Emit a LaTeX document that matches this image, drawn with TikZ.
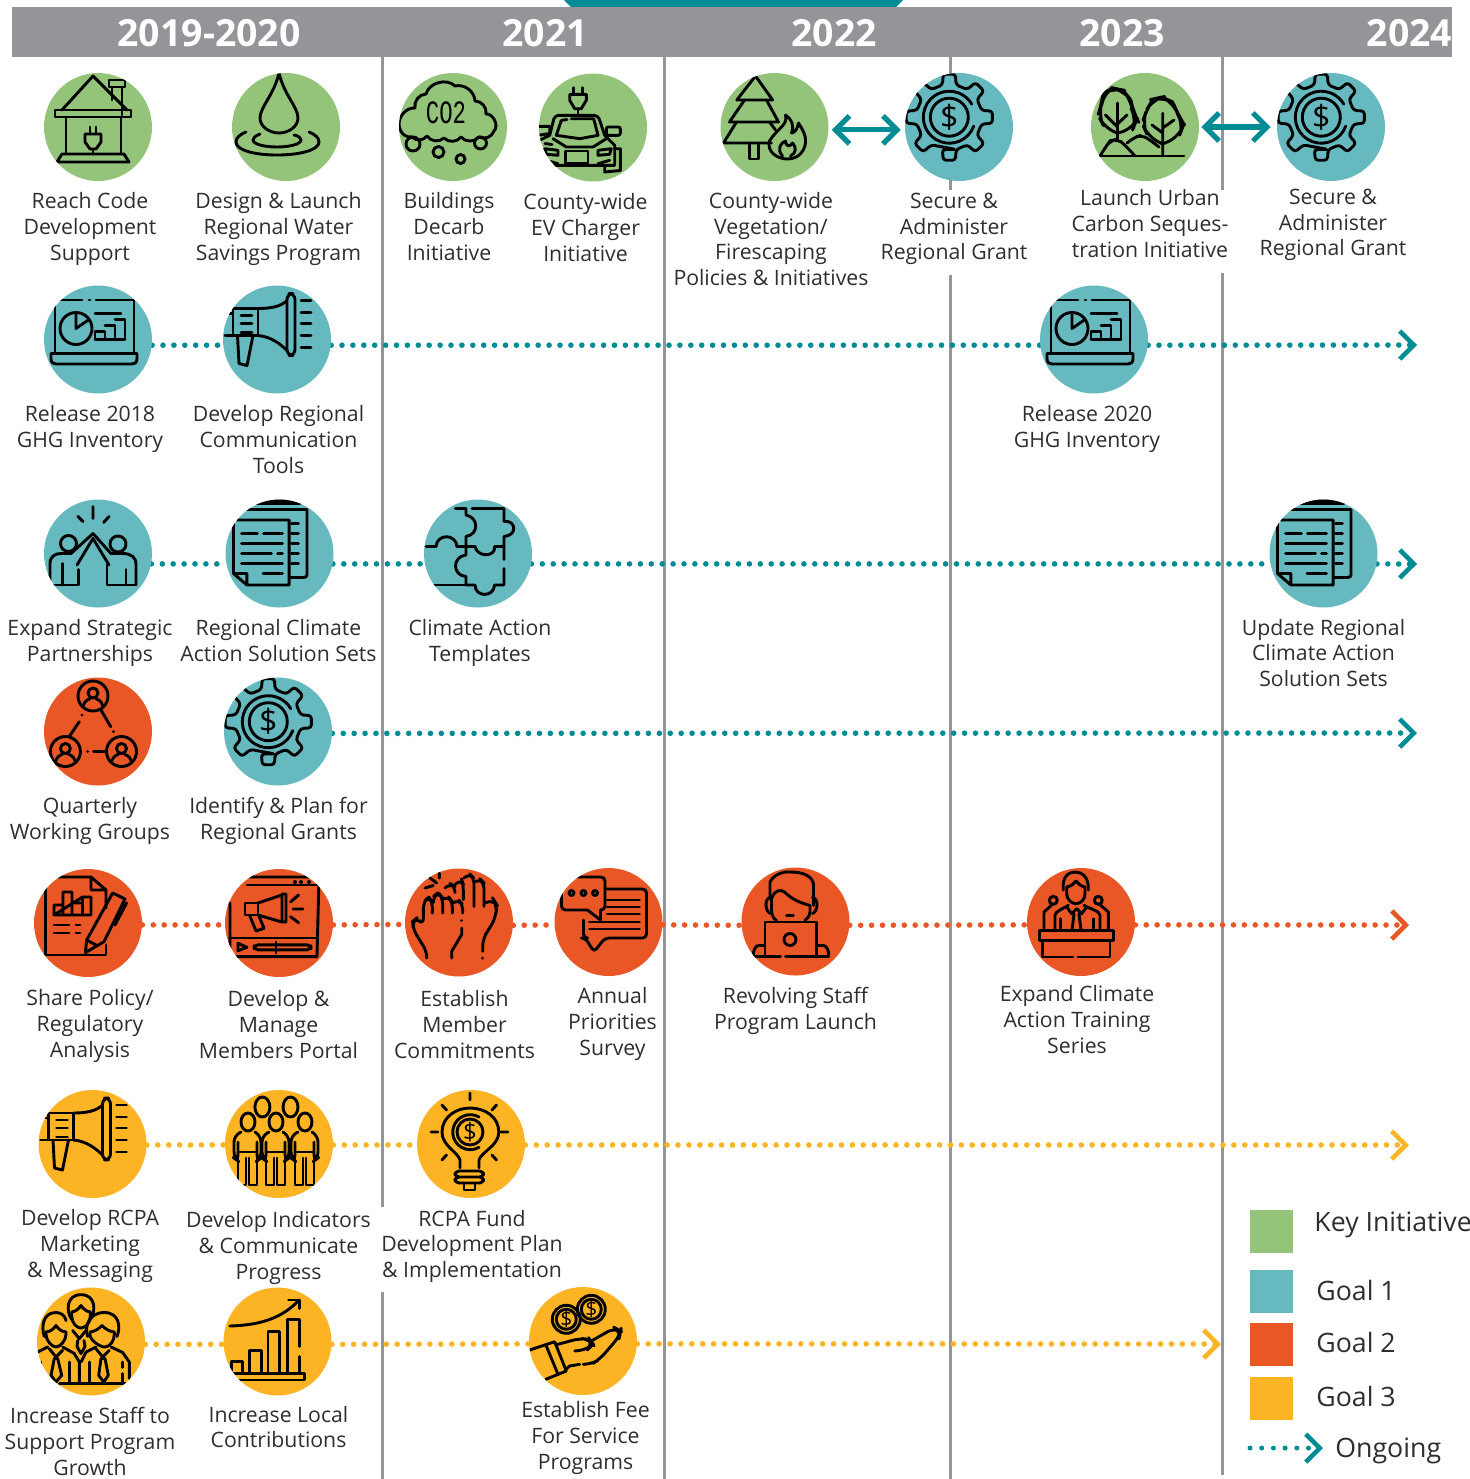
\documentclass[tikz,border=0pt]{standalone}
\usepackage{fontspec}
\setmainfont{Open Sans}
\usetikzlibrary{arrows.meta}
\definecolor{cGreen}{HTML}{94C37A}
\definecolor{cTeal}{HTML}{66B9BF}
\definecolor{cOrange}{HTML}{E85725}
\definecolor{cYellow}{HTML}{FDB424}
\definecolor{cGray}{HTML}{939598}
\definecolor{cDark}{HTML}{008C95}
\definecolor{cText}{HTML}{2E2E2E}
\pgfdeclarelayer{lines}\pgfdeclarelayer{dots}\pgfsetlayers{lines,dots,main}
\tikzset{
 circ/.style={circle,minimum size=54pt,inner sep=0pt,fill=#1},
 lbl/.style={font=\fontsize{10.62pt}{12.85pt}\selectfont,align=center,inner sep=0pt,text=cText,yshift=-1.6pt,execute at begin node=\strut,execute at end node=\strut},
 yearlbl/.style={font=\fontsize{18.7pt}{20pt}\selectfont\bfseries,text=white,inner sep=0pt},
 leg/.style={font=\fontsize{13.35pt}{16pt}\selectfont,text=cText,inner sep=0pt,anchor=west},
 vline/.style={draw=cGray,line width=1.5pt},
 dotsT/.style={draw=#1,line width=2.8pt,line cap=round,dash pattern=on 0pt off 5.45pt},
 chev/.style={-{Straight Barb[length=7pt,width=14pt,line width=2.3pt]}},
 dbl/.style={draw=cDark,line width=2.6pt,{Straight Barb[length=7pt,width=14pt,line width=2.6pt]}-{Straight Barb[length=7pt,width=14pt,line width=2.6pt]}},
 ico/.style={draw=black,line width=1.45pt,line cap=round,line join=round},
 dollar/.style={font=\fontsize{#1}{#1}\selectfont,text=black,inner sep=0pt}
}
\newcommand{\placeicon}[2]{\begin{scope}[shift={(#1.center)}]\clip (0,0) circle[radius=54];\begin{scope}[ico]#2\end{scope}\end{scope}}
\newcommand{\icoPlug}{
 \draw (-3,0)--(-3,7) (3,0)--(3,7);
 \draw (-8,7)--(8,7)--(8,15)--(3,22)--(-3,22)--(-8,15)--cycle;
 \draw (0,22)--(0,27);}
\newcommand{\icoHouse}{
 \draw (-36,-17)--(-5,-51)--(29,-17);
 \draw (-43,-17) rectangle (33,-10);
 \draw (-32,-10)--(-32,27) (23,-10)--(23,27);
 \draw (-36,27)--(26,27)--(31,35)--(-41,35)--cycle;
 \draw (14,-40)--(14,-27) (24,-40)--(24,-12);
 \draw (11,-47) rectangle (27,-40);
 \begin{scope}[shift={(-5,0)}]\icoPlug\end{scope}}
\newcommand{\icoDrop}{
 \draw (-7,-54) .. controls (-12,-32) and (-26,-20) .. (-26,-9) .. controls (-26,0) and (-16,6) .. (-7,6) .. controls (2,6) and (12,0) .. (12,-9) .. controls (12,-20) and (-2,-32) .. (-7,-54) -- cycle;
 \draw (-40,5) .. controls (-47,8) and (-50,11) .. (-50,15) .. controls (-50,23) and (-32,28) .. (-9,28) .. controls (14,28) and (33,23) .. (33,15) .. controls (33,11) and (30,8) .. (23,5);
 \draw (-26,7) .. controls (-31,9) and (-33,11) .. (-33,13) .. controls (-33,17) and (-22,20) .. (-9,20) .. controls (4,20) and (15,17) .. (15,13) .. controls (15,11) and (13,9) .. (8,8);}
\newcommand{\icoCloud}{
 \draw (-53,2) to[bend left=60] (-38,-19) to[bend left=50] (-27,-33) to[bend left=60] (2,-41) to[bend left=50] (22,-26) to[bend left=50] (33,-13) to[bend left=70] (41,4) to[bend left=50] (26,10) to[bend left=50] (8,10) to[bend left=50] (-9,11) to[bend left=50] (-26,9) to[bend left=50] (-41,10) to[bend left=40] (-53,2);
 \draw (-40,17) circle[radius=7] (-14.5,25) circle[radius=5.5] (7.5,32) circle[radius=4.5] (27.5,16) circle[radius=6];
 \node[inner sep=0pt,text=black] (co2txt) at (-7,-14) {\scalebox{0.72}[1.05]{\fontsize{15.5pt}{16pt}\selectfont\fontspec{Liberation Mono}CO2}};}
\newcommand{\icoCar}{
 \draw (-19.3,-39.8)--(-19.3,-33.8) (-10.7,-39.8)--(-10.7,-33.8);
 \draw (-23.3,-33.2)--(-6.7,-33.2)--(-6.7,-27.2)--(-11.7,-18.8)--(-18.3,-18.8)--(-23.3,-27.2)--cycle;
 \draw (-15,-18.8)--(-15,-13.8);
 \draw[rounded corners=2pt] (-43.3,7.8)--(-38.3,-12.2)--(5,-12.2)--(11.7,7.8);
 \draw (-31.7,-7.2)--(-26,-8) (-21.7,-8.8)--(0.7,-8.8)--(5,7.8)--(-13.3,11.2)--(-36.7,7.8)--(-31.7,-7.2);
 \draw (-40,11.2)--(-26.7,19.5)--(0,19.5)--(13.3,11.2);
 \draw (-56,-1.2)--(-43.3,-1.2)--(-43.3,6)--(-56,8);
 \draw[rounded corners=1pt] (13.3,-0.5)--(27.3,-0.5)--(27.3,7.8)--(13.3,7.8)--cycle;
 \draw (11.7,7.8)--(21.7,17.8)--(21.7,37.8)--(-50,37.8);
 \draw (-43.3,7.8)--(-56,14);
 \draw (-27.3,23.5) rectangle (-5,36.2);
 \draw (-48.3,21.2)--(-35,22.8)--(-35,27.8)--(-46.7,26.8)--cycle;
 \draw (5,22.8)--(18.3,21.2)--(16.7,26.8)--(5,27.8)--cycle;
 \draw (-47,32.8)--(-35,36.2) (5,36.2)--(16.7,32.8);
 \draw (-48,16)--(-41,17);
 \draw (21.7,21.2)--(27.3,21.2)--(27.3,43)--(11.7,44.5)--(11.7,37.8);}
\newcommand{\icoTreeFire}{
 \draw (-37.7,-27)--(-19,-51)--(-1.8,-27)--cycle;
 \draw (-30,-27)--(-45,-5)--(4,-5)--(-8,-27);
 \draw (-38,-5)--(-51,16)--(-3,16) (-5,-5)--(1,3);
 \draw (-25,16)--(-25,32)--(-16,32)--(-16,16);
 \draw (11,-12) .. controls (14,-2) and (2,2) .. (-5,14) .. controls (-8,24) and (2,32) .. (13,32) .. controls (25,32) and (32,22) .. (31,12) .. controls (30,4) and (26,0) .. (24,-4) .. controls (23,2) and (20,6) .. (17,6) .. controls (20,-2) and (17,-8) .. (11,-12);
 \draw (8,29) .. controls (2,22) and (6,16) .. (11,14) .. controls (11,20) and (16,20) .. (18,16) .. controls (22,20) and (22,26) .. (16,29);}
\newcommand{\icoGear}{
 \begin{scope}[shift={(-9.7,-9.8)}]
 \draw[rounded corners=1.5pt] (90-12:33) foreach \a in {90,45,0,-45,-90,-135,180,135} { -- (\a+12:33) -- (\a+8:43.5) -- (\a-8:43.5) -- (\a-12:33) } -- cycle;
 \draw (20:26) arc[start angle=20,end angle=330,radius=26];
 \draw (0,0) circle[radius=19];
 \node[dollar=16pt] (gd) at (0,0) {\$};
 \end{scope}}
\newcommand{\icoDash}{
 \draw (-43,12)--(-43,-39.5)--(-16,-39.5) (-9,-39.5)--(-8,-39.5) (-2,-39.5)--(36,-39.5)--(36,12);
 \draw (-47,14)--(39,14)--(39,19) .. controls (39,23) and (37,24.5) .. (34,24.5)--(-42,24.5) .. controls (-45,24.5) and (-47,23) .. (-47,19)--cycle;
 \draw (-22,-11) circle[radius=16];
 \draw (-22,-27)--(-22,-11)--(-9,-20);
 \draw (-3,-26)--(23,-26);
 \draw (-3,0)--(27,0) (-3,0)--(-3,-8)--(7,-8)--(7,0) (7,-14)--(17,-14)--(17,0) (17,-20)--(27,-20)--(27,0);}
\newcommand{\icoMega}{
 \draw (-44,-31) rectangle (-19,-4);
 \draw (-19,-31) .. controls (-6,-31) and (4,-33) .. (10,-39);
 \draw (-19,-4) .. controls (-6,-3) and (4,5) .. (10,11);
 \draw[rounded corners=3pt] (10,-46) rectangle (18,16);
 \draw (-36,-24)--(-25,-24) (-36,-16)--(-25,-16) (-36,-7)--(-25,-7);
 \draw (-44,-26)--(-52,-26) (-44,-4)--(-52,-4);
 \draw (-39.5,-4)--(-38,24)--(-30,26)--(-24,-4);
 \foreach \y in {-39,-27,-16,-4,8} {\draw (24,\y)--(34,\y);}}
\newcommand{\icoFive}{
 \draw (-5,-47)--(-5,-35) (-20,-37)--(-15,-32) (11,-37)--(5.6,-31);
 \draw (-29.5,-10) circle[radius=8] (20,-9.5) circle[radius=8];
 \draw (-48,31.5)--(-48,10) .. controls (-48,3) and (-43,0) .. (-37,0)--(-27,0)--(-5,-20)--(13,0)--(25,0) .. controls (33,0) and (38,4) .. (38,10)--(38,31.5);
 \draw (-21,11.5)--(-5,-15)--(11,11.5);
 \draw (-19.4,16)--(-19.4,31.5)--(-47,31.5) (-35.5,10)--(-35.5,31.5);
 \draw (9,11.5)--(9,31.5)--(38,31.5) (28,16)--(28,31.5);}
\newcommand{\icoDoc}{
 \draw[line width=3pt] (-30,-52)--(20,-52);
 \draw (-32.6,-44)--(27.5,-44)--(27.5,21.5) .. controls (27.5,23) and (26,24) .. (24,24)--(10,24);
 \draw (-46,20)--(-46,-33.5)--(9.6,-33.5)--(9.6,31.5)--(-32.6,31.5)--(-46,20)--(-32.6,20)--(-32.6,31.5);
 \draw (-38,-20)--(-22,-20) (-16,-20)--(3,-20) (-38,-10)--(3,-10) (-38,0)--(-8,0) (-2,0)--(3,0) (-38,10)--(3,10) (-16.5,20)--(3,20);
 \draw (12,-30)--(19,-30) (12,-20)--(19,-20) (12,-10)--(19,-10) (12,0)--(19,0) (12,10)--(19,10);}
\newcommand{\icoPuzzle}{
 \draw (-22.7,-45)--(-12,-45)--(-12,-38.5) (-6,-45)--(26,-45)--(26,-32) .. controls (38,-34) and (40,-18) .. (26,-17)--(26,-7)--(16.6,-7) .. controls (18,4) and (-1,4) .. (-3,-7)--(-12,-7)--(-12,-17) .. controls (1,-19) and (1,-36) .. (-12,-38.5);
 \draw (-52,-7)--(-42,-7) .. controls (-41,-20) and (-22,-20) .. (-21,-7)--(-12,-7)--(-12,1.5) .. controls (-26,3) and (-26,22) .. (-12,23)--(-12,31.5)--(-3,31.5) .. controls (-3,44) and (16,44) .. (16.6,31.5)--(26,31.5)--(26,15) (26,6)--(26,-7);
 \draw (-44,31.5)--(-12,31.5);}
\newcommand{\icoPerson}{
 \draw (0,0) circle[radius=15];
 \draw (0,-3) circle[radius=5];
 \draw (-10,10) .. controls (-8,4) and (-4,3) .. (-3,3) (3,3) .. controls (4,3) and (8,4) .. (10,10);}
\newcommand{\icoNetwork}{
 \begin{scope}[shift={(-5,-35.5)}]\icoPerson\end{scope}
 \begin{scope}[shift={(-32.6,20)}]\icoPerson\end{scope}
 \begin{scope}[shift={(23.5,20)}]\icoPerson\end{scope}
 \draw (3,-21.5)--(12.7,-4.8) (15.5,0)--(15.5,0.1);
 \draw (-18.7,-9.8)--(-28.4,4.5) (-16,-16.5)--(-16,-16.4);
 \draw (-4.5,20)--(8,20) (-10.5,20)--(-10.4,20);}
\newcommand{\icoPen}{
 \draw (-42.5,-46)--(3,-46)--(18,-33)--(18,-15) (3,-46)--(3,-33)--(18,-33);
 \draw (18,22)--(18,32)--(-42.5,32)--(-42.5,-46);
 \draw (-34,-8)--(-34,-18)--(-25,-18)--(-25,-8) (-25,-31)--(-16,-31)--(-16,-8) (-25,-31)--(-25,-8) (-16,-20)--(-5.5,-20)--(-5.5,-8) (-5.5,-26)--(3,-26)--(3,-8)--(-34,-8)--cycle (-5.5,-26)--(-5.5,-8);
 \draw (-34,2)--(-19,2) (-12,2)--(-8,2) (-34,10)--(-19,10) (-12,10)--(-8,10);
 \draw (24.7,-30)--(-1.3,17)--(-2.6,29.6)--(16,18.7)--(37,-24)--cycle;
 \draw (38.6,-20)--(27,2);
 \draw (-1.3,17)--(8,22);}
\newcommand{\icoVideo}{
 \draw (-47,-46)--(40,-46)--(38,33.6)--(-49,33.6)--(-49,-20);
 \draw (-49,-38)--(-40,-38) (-32,-38)--(38,-38) (-49,15)--(38,15);
 \fill[black] (16,-41) circle[radius=2] (22,-41) circle[radius=2] (30,-41) circle[radius=2];
 \draw (-34,-20) rectangle (-21,-8);
 \draw (-21,-20)--(3,-28) (-21,-8)--(3,-1) (3,-29) rectangle (7,-1);
 \draw (-29.5,-8)--(-23,8)--(-15,5.3)--(-20,-7);
 \draw (11.5,-21)--(19.6,-28) (14,-14)--(24,-14) (11.5,-6.3)--(19.6,-0.3);
 \draw (-41,20.3)--(-41,27.7)--(-32,24.3)--cycle;
 \draw[rounded corners=2pt] (-25,21.8) rectangle (32,26.8);
 \draw (-3,19)--(-3,30);}
\newcommand{\icoHands}{
 \draw[rounded corners=3pt] (-32.3,35.5)--(-32.3,28.8)--(-45.7,7.2)--(-46.3,-1)--(-42.3,-4.5)--(-35.7,2.2)--(-35.7,-19.5)--(-30.7,-26)--(-26.7,-21)--(-26.7,-9.5);
 \draw[rounded corners=3pt] (-25.7,-22)--(-25.7,-26)--(-20.7,-30)--(-16.3,-24.5)--(-16.3,-9.5);
 \draw[rounded corners=3pt] (-15.7,-24)--(-10.7,-26)--(-6.7,-21)--(-6.7,-9.5);
 \draw[rounded corners=3pt] (-6.3,-19.5)--(-0.7,-23)--(3.7,-18)--(3.7,-9.5);
 \draw (2.7,-2)--(2.7,-1.9);
 \draw (2.7,5.5)--(2.7,12)--(-7.3,28.8)--(-7.3,35.5);
 \draw[rounded corners=3pt] (-14,-34.5)--(-9,-39)--(-4,-36)--(-4,-31);
 \draw[rounded corners=3pt] (-4,-38)--(2.7,-43)--(4.3,-38)--(4.3,-23);
 \draw[rounded corners=3pt] (5,-44.5)--(10.3,-49)--(15,-44.5)--(15,-16);
 \draw[rounded corners=3pt] (16,-41)--(21,-43.5)--(25,-39.5)--(25,-16);
 \draw[rounded corners=4pt] (26,-19.5)--(34.3,-23.5)--(37.7,-18)--(37,-6)--(31,5.5)--(23.7,15.5)--(23.7,28.8);
 \draw (23.7,35.5)--(23.7,35.6);
 \draw (-19.7,-49.5)--(-19.7,-44.5) (-29,-44.5)--(-22.3,-39.5) (-34,-34.5)--(-25.7,-37);}
\newcommand{\icoChat}{
 \draw[rounded corners=2pt] (-8,-12)--(-3.5,-12)--(-3.5,-45)--(-47,-45)--(-47,-12)--(-21,-12);
 \draw (-21,-12)--(-8,-2)--(-8,-12);
 \draw (-37,-29) circle[radius=2.5] (-25,-29) circle[radius=2.5] (-13.5,-29) circle[radius=2.5];
 \draw[rounded corners=2pt] (-3.5,-33)--(38,-33)--(38,16)--(-3.5,16)--(-14.5,30)--(-23,16)--(-25,16)--(-25,-2);
 \draw (-1.5,-22)--(31,-22) (-1.5,-15)--(31,-15) (-1.5,-8)--(31,-8) (-19,0)--(31,0) (-19,7)--(31,7);}
\newcommand{\icoLaptop}{
 \draw (-30.5,35)--(-30.5,0.5)--(21,0.5)--(21,35);
 \draw (-5.5,18) circle[radius=6];
 \draw (-42,35)--(-15,35) (-10,35)--(33,35);
 \draw (-30.5,24)--(-37,24) .. controls (-40,24) and (-43,30) .. (-42,35);
 \draw (21,24)--(28,24) .. controls (31,24) and (34,30) .. (33,35);
 \draw (-25.5,-23)--(-25.5,-39.5) .. controls (-22,-47) and (-12,-50) .. (-7,-49.5) .. controls (8,-50) and (18,-45) .. (18,-36)--(18,-16);
 \draw (-24,-23) .. controls (-22,-28) and (-20,-31) .. (-14,-31) .. controls (-10,-31) and (-8,-22) .. (14.5,-16);
 \draw (-24,-23)--(-24,-12) .. controls (-24,-6) and (-22,-3) .. (-19,-1);
 \draw (14.5,-16)--(14.5,-10) .. controls (14.5,-6) and (12,-3) .. (9.5,-1);
 \draw (-25,-24) .. controls (-31,-24) and (-31,-10) .. (-25,-8);
 \draw (17,-24) .. controls (23,-24) and (23,-10) .. (17,-8);
 \draw (-9,-6)--(-2,-6);}
\newcommand{\icoSpeaker}{
 \draw (-41.7,8.3) rectangle (32.3,18.3);
 \draw (-38.3,18.3)--(-38.3,35)--(-8,35) (-3,35)--(29,35)--(29,18.3);
 \draw (-17.7,-32) .. controls (-19,-46) and (-12,-50) .. (-6,-50) .. controls (1,-50) and (8,-45) .. (7.3,-32);
 \draw (-14.3,-35)--(-14.3,-28) .. controls (-14,-22) and (-9,-18.3) .. (-5,-18.3) .. controls (-1,-18.3) and (4,-22) .. (4,-28)--(4,-35);
 \draw (-14.3,-35) .. controls (-10,-36) and (-7,-38) .. (-5,-41) .. controls (-3,-38) and (0,-36) .. (4,-35);
 \draw (-26,8.3)--(-26,-6.7) .. controls (-26,-11) and (-16,-14) .. (-12.7,-16.7);
 \draw (3,-16.7) .. controls (9,-13) and (19,-11) .. (19,-6.7)--(19,8.3);
 \draw (-14.3,-15)--(-9.3,-8.3)--(-4.3,-13.3)--(0.7,-8.3)--(5.7,-15);
 \draw (-7,-8)--(-9,8.3) (-2,-8)--(0,8.3);
 \draw (-20.3,-3.3)--(-20.3,8.3) (12.3,-3.3)--(12.3,8.3);
 \draw (-27.7,-21.7) circle[radius=4] (17.3,-21.7) circle[radius=4];
 \draw (-29,-17.3)--(-37,-10)--(-37,8.3) (19,-17.3)--(27.3,-10)--(27.3,8.3);}
\newcommand{\icoBulb}{
 \draw (-11,24)--(-11,16) .. controls (-13,8) and (-29,2) .. (-29,-12) .. controls (-29,-27) and (-15,-36) .. (-1,-36) .. controls (14,-36) and (27.8,-27) .. (27.8,-12) .. controls (27.8,2) and (10,8) .. (8,16)--(8,24);
 \draw[rounded corners=2pt] (-16,27) rectangle (12.5,33) (-16,33) rectangle (12.5,39);
 \draw (-7,39)--(-7,46)--(4,46)--(4,39);
 \draw (-1,-51)--(-1,-44) (-29,-39)--(-24.5,-34) (25.5,-39)--(21,-34) (-40,-12)--(-33,-12) (30,-12)--(37,-12) (-29,16)--(-24.5,11) (25.5,16)--(21,11);
 \draw (-1,-12) circle[radius=13];
 \draw (8,-27) arc[start angle=-60,end angle=-300,radius=17.5];
 \node[dollar=12pt] (bd) at (-1,-12) {\$};}
\newcommand{\icoPeople}{
 \draw (-16.6,-37) ellipse[x radius=7.5,y radius=10] (11.5,-37) ellipse[x radius=7.5,y radius=10];
 \foreach \xp in {-31,-3,26} {
 \begin{scope}[shift={(\xp,0)}]
 \draw (0,-22) ellipse[x radius=7,y radius=9];
 \draw[rounded corners=3pt] (-7,-12)--(-14,-8)--(-14,14)--(-10,17)--(-10,-2) (7,-12)--(13,-8)--(13,14)--(9,17)--(9,-2);
 \draw (-10,8)--(9,8);
 \draw (-10,8)--(-10,41)--(-2,41)--(-2,14) (9,8)--(9,41)--(1,41)--(1,14);
 \end{scope}}}
\newcommand{\icoSuits}{
 \draw (-19.3,-22) .. controls (-25,-30) and (-25,-47) .. (-10,-46.8) .. controls (5,-47) and (5,-30) .. (-0.7,-22);
 \draw (-19.3,-29.5)--(-19.3,-25) .. controls (-19,-18) and (-14,-13.5) .. (-10,-13.5) .. controls (-6,-13.5) and (-1,-18) .. (-0.7,-25)--(-0.7,-29.5);
 \draw (-19.3,-29.5) .. controls (-15,-30) and (-12,-33) .. (-10,-36) .. controls (-8,-33) and (-5,-30) .. (-0.7,-29.5);
 \draw (-18.3,-11)--(-11.7,-2.8)--(-5,-11) (-13.3,-1)--(-14,5)--(-10,12)--(-6,5)--(-7,-1);
 \draw (-46.7,-5) .. controls (-50,-15) and (-48,-29) .. (-35,-29) .. controls (-30,-29) and (-26,-26) .. (-25,-21);
 \draw (-45,-9.5)--(-45,-7) .. controls (-45,-1) and (-39,5.5) .. (-35,5.5) .. controls (-31,5.5) and (-25,-1) .. (-25,-7)--(-25,-9.5);
 \draw (-45,-9.5) .. controls (-40,-10) and (-37,-13) .. (-35,-16) .. controls (-33,-13) and (-30,-10) .. (-25,-9.5);
 \draw (-3.3,-5) .. controls (-7,-15) and (-2,-29) .. (13.3,-29) .. controls (28,-29) and (30,-15) .. (26,-5);
 \draw (-1,-9.5)--(-1,-7) .. controls (-1,-1) and (9,5.5) .. (14,5.5) .. controls (19,5.5) and (23.3,-1) .. (23.3,-7)--(23.3,-9.5);
 \draw (-1,-9.5) .. controls (4,-10) and (8,-13) .. (11,-16) .. controls (14,-13) and (18,-10) .. (23.3,-9.5);
 \draw (-53.3,10.5)--(-43.3,5.5) (-41.7,7.2)--(-35,15.5)--(-28.3,8.8) (-28.3,5.5)--(-16.7,12)--(-11.7,20.5)--(-11.7,42);
 \draw (-36.7,17)--(-40,33.8)--(-35,40.5)--(-29.3,33.8)--(-33.3,17)--cycle;
 \draw (-10,20.5)--(-5,10.5)--(5,5.5) (5,7.2)--(11.7,15.5)--(18.3,8.8) (20,5.5)--(31.7,11)--(38.3,20.5)--(38.3,37);
 \draw (10,17)--(7.7,33.8)--(12.7,40.5)--(17.3,33.8)--(14,17)--cycle;
 \draw (-50,20.5)--(-50,32) (-21.7,20.5)--(-21.7,42) (-1.7,20.5)--(-1.7,42) (31.7,20.5)--(31.7,26) (31.7,32)--(31.7,42);
 \draw (-31.7,42)--(35,42);}
\newcommand{\icoBars}{
 \draw (-47.7,-15.5) .. controls (-17,-16.5) and (4,-23) .. (21.7,-41.5);
 \draw (11,-41.5)--(21.7,-41.5)--(21.7,-33);
 \draw (-46.4,30)--(-46.4,20)--(-34.6,20)--(-34.6,30) (-28,30)--(-28,9)--(-16.4,9)--(-16.4,30) (-9.5,30)--(-9.5,-10)--(2.2,-10)--(2.2,30) (9.6,30)--(9.6,-22)--(21.7,-22)--(21.7,5) (21.7,15)--(21.7,30);
 \draw (-47.7,32) rectangle (27.4,38.5);}
\newcommand{\icoCoins}{
 \draw (-16.7,-21.7) circle[radius=14] (-16.7,-21.7) circle[radius=10];
 \draw (8.3,-31.7) circle[radius=14] (8.3,-31.7) circle[radius=10];
 \node[dollar=10.5pt] (cd1) at (-16.7,-21.7) {\$};
 \node[dollar=10.5pt] (cd2) at (8.3,-31.7) {\$};
 \draw (-53.3,9)--(-28.3,0.7)--(-16.7,30)--(-37.3,38.3);
 \draw (-36.7,5)--(-25,33.3);
 \draw[rounded corners=4pt] (-25,3.3)--(-3.3,-2.7)--(6.7,-1.7)--(10,3.3)--(5,8.3)--(-8.3,10);
 \draw[rounded corners=4pt] (8.3,0)--(31.7,-13.3)--(37.7,-10)--(36.7,-5)--(16.7,18.3)--(8.3,23.3)--(1.7,23.3);
 \draw (-3.3,23.3)--(-13.3,25)--(-17,28);}
\newcommand{\icoTrees}{
 \draw (-45,29)--(39,29);
 \draw (-27.5,-24)--(-27.5,13) (-27.5,0)--(-39.5,-12) (-27.5,-3)--(-18,-12);
 \draw (17.7,-13.7)--(17.7,29) (17.7,6)--(7,-2) (17.7,1)--(29,-7);
 \draw[rounded corners=6pt] (-27.5,6)--(-40,2)--(-47,-12)--(-43,-24)--(-42,-34)--(-32,-39)--(-22,-37)--(-14,-27)--(-12,-15)--(-8,-8)--(-12,2)--(-27.5,6);
 \draw[rounded corners=6pt] (17.7,17)--(3,10)--(-3,-4)--(2,-18)--(8,-28)--(17,-30)--(28,-25)--(33,-12)--(39,-3)--(34,10)--(17.7,17);
 \draw[rounded corners=3pt] (-45,29)--(-38,18)--(-35,14)--(-27.5,12)--(-20,18)--(-10,29);
 \draw[rounded corners=3pt] (-18,16)--(-10,10)--(-3,8)--(5,13)--(14,20);}
\begin{document}
\begin{tikzpicture}[x=0.5pt,y=-0.5pt]
\useasboundingbox (0,0) rectangle (1470,1479);
% header
\fill[cDark] (564,0)--(903,0)--(896,7)--(571,7)--cycle;
\fill[cGray] (12,7) rectangle (1452,57);
\node[yearlbl] (y1) at (209,33) {2019-2020};
\node[yearlbl] (y2) at (545,33) {2021};
\node[yearlbl] (y3) at (834,33) {2022};
\node[yearlbl] (y4) at (1122,33) {2023};
\node[yearlbl] (y5) at (1409.5,33) {2024};
% year dividers
\begin{pgfonlayer}{lines}
\draw[vline] (382.5,57)--(382.5,1207) (382.5,1292)--(382.5,1479);
\draw[vline] (664,57)--(664,1479);
\draw[vline] (950.5,57)--(950.5,190) (950.5,275)--(950.5,1479);
\draw[vline] (1222.5,57)--(1222.5,190) (1222.5,273)--(1222.5,1475);
\end{pgfonlayer}
% circles
\node[circ=cGreen] (a1) at (98,127) {};
\node[circ=cGreen] (a2) at (286,127) {};
\node[circ=cGreen] (a3) at (453,127) {};
\node[circ=cGreen] (a4) at (593,127.5) {};
\node[circ=cGreen] (a5) at (774.5,127) {};
\node[circ=cTeal] (a6) at (959,127) {};
\node[circ=cGreen] (a7) at (1145,127) {};
\node[circ=cTeal] (a8) at (1331,127) {};
\node[circ=cTeal] (b1) at (98,339.5) {};
\node[circ=cTeal] (b2) at (277,339.5) {};
\node[circ=cTeal] (b3) at (1094,339.5) {};
\node[circ=cTeal] (c1) at (98,553.5) {};
\node[circ=cTeal] (c2) at (279.5,553.5) {};
\node[circ=cTeal] (c3) at (478,553.5) {};
\node[circ=cTeal] (c4) at (1323.5,553.5) {};
\node[circ=cOrange] (d1) at (98,731.5) {};
\node[circ=cTeal] (d2) at (278,731.5) {};
\node[circ=cOrange] (e1) at (88,923) {};
\node[circ=cOrange] (e2) at (279,923) {};
\node[circ=cOrange] (e3) at (459,922.5) {};
\node[circ=cOrange] (e4) at (608.5,922) {};
\node[circ=cOrange] (e5) at (795.5,921.5) {};
\node[circ=cOrange] (e6) at (1081,922) {};
\node[circ=cYellow] (f1) at (92.5,1144) {};
\node[circ=cYellow] (f2) at (279,1144) {};
\node[circ=cYellow] (f3) at (471,1144) {};
\node[circ=cYellow] (g1) at (91,1341.5) {};
\node[circ=cYellow] (g2) at (277.5,1341.5) {};
\node[circ=cYellow] (g3) at (583,1341) {};
% icons
\placeicon{a1}{\icoHouse}
\placeicon{a2}{\icoDrop}
\placeicon{a3}{\icoCloud}
\placeicon{a4}{\icoCar}
\placeicon{a5}{\icoTreeFire}
\placeicon{a6}{\icoGear}
\placeicon{a7}{\icoTrees}
\placeicon{a8}{\icoGear}
\placeicon{b1}{\icoDash}
\placeicon{b2}{\icoMega}
\placeicon{b3}{\icoDash}
\placeicon{c1}{\icoFive}
\placeicon{c2}{\icoDoc}
\placeicon{c3}{\icoPuzzle}
\placeicon{c4}{\icoDoc}
\placeicon{d1}{\icoNetwork}
\placeicon{d2}{\icoGear}
\placeicon{e1}{\icoPen}
\placeicon{e2}{\icoVideo}
\placeicon{e3}{\icoHands}
\placeicon{e4}{\icoChat}
\placeicon{e5}{\icoLaptop}
\placeicon{e6}{\icoSpeaker}
\placeicon{f1}{\icoMega}
\placeicon{f2}{\icoPeople}
\placeicon{f3}{\icoBulb}
\placeicon{g1}{\icoSuits}
\placeicon{g2}{\icoBars}
\placeicon{g3}{\icoCoins}
% free ends
\coordinate (endB) at (1417,345);
\coordinate (endC) at (1417,564);
\coordinate (endD) at (1417,733);
\coordinate (endE) at (1409,925);
\coordinate (endF) at (1409,1145);
\coordinate (endG) at (1221,1344);
\coordinate (legA) at (1250,1448);
\coordinate (legB) at (1323,1448);
% connectors
\begin{pgfonlayer}{dots}
\draw[dotsT=cDark] (b1.-6)--(b2.186);
\draw[dotsT=cDark] (b2.-6)--(b3.186);
\draw[dotsT=cDark,chev] (b3.-6)--(endB);
\draw[dotsT=cDark] (c1.-11)--(c2.191);
\draw[dotsT=cDark] (c2.-11)--(c3.191);
\draw[dotsT=cDark] (c3.-11)--(c4.191);
\draw[dotsT=cDark,chev] (c4.-11)--(endC);
\draw[dotsT=cDark,chev] (d2.-2)--(endD);
\draw[dotsT=cOrange] (e1.-2)--(e2.182);
\draw[dotsT=cOrange] (e2.-2)--(e3.182);
\draw[dotsT=cOrange] (e3.-3)--(e4.183);
\draw[dotsT=cOrange] (e4.-3)--(e5.184);
\draw[dotsT=cOrange] (e5.-4)--(e6.183);
\draw[dotsT=cOrange,chev] (e6.-3)--(endE);
\draw[dotsT=cYellow] (f1.-1)--(f2.181);
\draw[dotsT=cYellow] (f2.-1)--(f3.181);
\draw[dotsT=cYellow,chev] (f3.-1)--(endF);
\draw[dotsT=cYellow] (g1.-3)--(g2.183);
\draw[dotsT=cYellow] (g2.-3)--(g3.183);
\draw[dotsT=cYellow,chev] (g3.-3)--(endG);
\end{pgfonlayer}
\draw[dbl,shorten <=1.5pt,shorten >=2pt] (a5.-3)--(a6.183);
\draw[dbl,shorten <=1pt,shorten >=3pt] (a7.0)--(a8.180);
% labels
\node[lbl] (la1) at (90,227) {Reach Code\\Development\\Support};
\node[lbl] (la2) at (278.5,227) {Design \& Launch\\Regional Water\\Savings Program};
\node[lbl] (la3) at (449,227) {Buildings\\Decarb\\Initiative};
\node[lbl] (la4) at (585.5,228) {County-wide\\EV Charger\\Initiative};
\node[lbl] (la5) at (771,239.5) {County-wide\\Vegetation/\\Firescaping\\Policies \& Initiatives};
\node[lbl] (la6) at (954,227) {Secure \&\\Administer\\Regional Grant};
\node[lbl] (la7) at (1150,224) {Launch Urban\\Carbon Seques-\\tration Initiative};
\node[lbl] (la8) at (1333,223) {Secure \&\\Administer\\Regional Grant};
\node[lbl] (lb1) at (90,427) {Release 2018\\GHG Inventory};
\node[lbl] (lb2) at (278.5,440) {Develop Regional\\Communication\\Tools};
\node[lbl] (lb3) at (1087,427) {Release 2020\\GHG Inventory};
\node[lbl] (lc1) at (90,641) {Expand Strategic\\Partnerships};
\node[lbl] (lc2) at (278.5,641) {Regional Climate\\Action Solution Sets};
\node[lbl] (lc3) at (480,641) {Climate Action\\Templates};
\node[lbl] (lc4) at (1323.5,653.5) {Update Regional\\Climate Action\\Solution Sets};
\node[lbl] (ld1) at (90,819) {Quarterly\\Working Groups};
\node[lbl] (ld2) at (278.5,819) {Identify \& Plan for\\Regional Grants};
\node[lbl] (le1) at (90,1024) {Share Policy/\\Regulatory\\Analysis};
\node[lbl] (le2) at (278.5,1025) {Develop \&\\Manage\\Members Portal};
\node[lbl] (le3) at (464.5,1025) {Establish\\Member\\Commitments};
\node[lbl] (le4) at (612.5,1022) {Annual\\Priorities\\Survey};
\node[lbl] (le5) at (795.5,1009) {Revolving Staff\\Program Launch};
\node[lbl] (le6) at (1077,1020) {Expand Climate\\Action Training\\Series};
\node[lbl] (lf1) at (90,1244) {Develop RCPA\\Marketing\\\& Messaging};
\node[lbl] (lf2) at (278.5,1246) {Develop Indicators\\\& Communicate\\Progress};
\node[lbl] (lf3) at (472,1244.5) {RCPA Fund\\Development Plan\\\& Implementation};
\node[lbl] (lg1) at (90,1442) {Increase Staff to\\Support Program\\Growth};
\node[lbl] (lg2) at (278.5,1427.5) {Increase Local\\Contributions};
\node[lbl] (lg3) at (585.5,1436) {Establish Fee\\For Service\\Programs};
% legend
\fill[cGreen] (1250,1210) rectangle (1293,1253);
\fill[cTeal] (1250,1270) rectangle (1293,1313);
\fill[cOrange] (1250,1323) rectangle (1293,1366);
\fill[cYellow] (1250,1377) rectangle (1293,1420);
\node[leg] (k0) at (1314,1224.5) {Key Initiative};
\node[leg] (k1) at (1316,1290) {Goal 1};
\node[leg] (k2) at (1316,1342) {Goal 2};
\node[leg] (k3) at (1316,1396) {Goal 3};
\node[leg] (k4) at (1335,1450.5) {Ongoing};
\draw[draw=cDark,line width=2.5pt,line cap=round,dash pattern=on 0pt off 5.85pt,chev] (legA)--(legB);
\end{tikzpicture}
\end{document}
